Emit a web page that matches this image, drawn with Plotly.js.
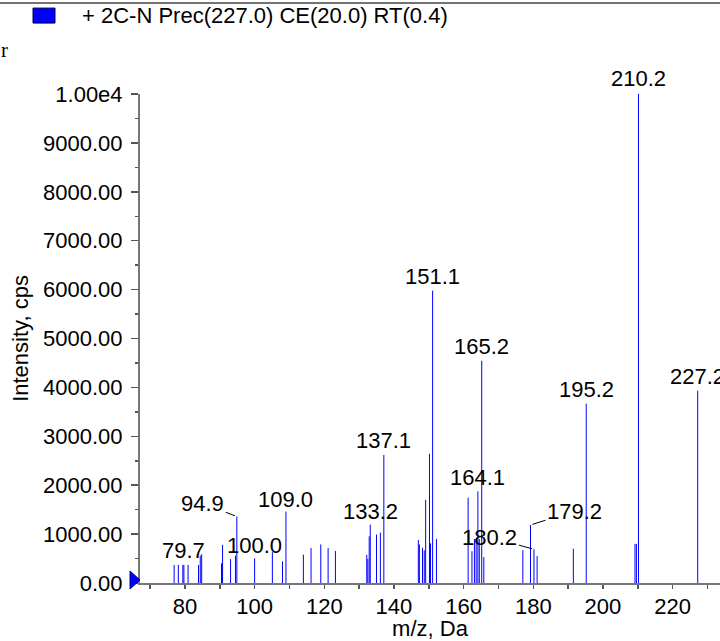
<!DOCTYPE html>
<html>
<head>
<meta charset="utf-8">
<script src="https://cdn.plot.ly/plotly-3.0.1.min.js"></script>
<style>html,body{margin:0;padding:0;background:#fff;}#chart{width:720px;height:641px;}</style>
</head>
<body>
<div id="chart"></div>
<script>
// ---- data ----
const peakMz = [76.9, 78.1, 79.4, 79.7, 80.9, 83.9, 84.4, 84.8,
  90.5, 90.8, 93.1, 94.5, 94.9, 100.0, 105.1, 108.0, 109.0,
  114.0, 116.2, 119.0, 121.1, 123.2,
  132.2, 132.5, 132.9, 133.2, 135.0, 136.1, 137.1,
  147.0, 147.3, 148.2, 148.7, 149.1, 150.2, 150.5, 151.1, 152.2,
  161.3, 162.4, 163.1, 163.6, 164.1, 164.5, 165.2, 165.8,
  177.0, 179.2, 180.2, 181.1, 191.5, 195.2,
  209.2, 209.6, 210.2, 227.2];
const peakIntensity = [370, 370, 370, 370, 370, 370, 560, 590,
  400, 780, 490, 560, 1360, 505, 630, 440, 1460,
  580, 715, 790, 715, 655,
  575, 490, 955, 1195, 990, 1030, 2620,
  880, 790, 720, 670, 1700, 2640, 810, 5980, 900,
  1745, 650, 900, 900, 1875, 900, 4546, 530,
  670, 1186, 690, 550, 700, 3667,
  800, 800, 10000, 3933];

const labelMz = [79.7, 94.9, 100.0, 109.0, 133.2, 137.1, 151.1, 164.1, 165.2, 179.2, 180.2, 195.2, 210.2, 227.2];
const labelText = ['79.7', '94.9', '100.0', '109.0', '133.2', '137.1', '151.1', '164.1', '165.2', '179.2', '180.2', '195.2', '210.2', '227.2'];

const yTickVals = [0, 1000, 2000, 3000, 4000, 5000, 6000, 7000, 8000, 9000, 10000];
const yTickText = ['0.00', '1000.00', '2000.00', '3000.00', '4000.00', '5000.00', '6000.00', '7000.00', '8000.00', '9000.00', '1.00e4'];

const legendText = '+ 2C-N Prec(227.0) CE(20.0) RT(0.4)';
const xTitle = 'm/z, Da';
const yTitle = 'Intensity, cps';

// ---- label placement styles (pixel offsets of text from peak top; leader line flag) ----
const labelStyle = {
  '79.7': [0, -14, false], '94.9': [-34, -13, true], '100.0': [0, -13, false],
  '109.0': [0, -12, false], '133.2': [0, -13, false], '137.1': [0, -14, false],
  '151.1': [0, -14, false], '164.1': [0, -14, false], '165.2': [0, -14, false],
  '179.2': [44, -14, true], '180.2': [-44, -12, true], '195.2': [0, -14, false],
  '210.2': [0, -16, false], '227.2': [0, -14, false]
};

// ---- build stick spectrum ----
const xs = [], ys = [];
peakMz.forEach((m, i) => { xs.push(m, m, null); ys.push(0, peakIntensity[i], null); });

const W = 720, H = 641, mL = 140, mR = 0, mT = 94, mB = 57.5;
const pw = W - mL - mR, ph = H - mT - mB;
const px = v => (v - mL) / pw;        // pixel x -> paper
const py = v => (H - mB - v) / ph;    // pixel y -> paper

const font = {family: 'Liberation Sans, Arial, sans-serif', size: 22, color: '#000'};

const annotations = labelText.map((t, i) => {
  const m = labelMz[i];
  const idx = peakMz.indexOf(m);
  const st = labelStyle[t];
  return {
    x: m, y: peakIntensity[idx], xref: 'x', yref: 'y', text: t,
    showarrow: true, ax: st[0], ay: st[1], arrowhead: 0, arrowwidth: 1,
    arrowcolor: st[2] ? '#000' : 'rgba(0,0,0,0)', standoff: 2, startstandoff: 0,
    font: font
  };
});
annotations.push({
  xref: 'paper', yref: 'paper', x: px(80), y: py(15), xanchor: 'left', yanchor: 'middle',
  text: legendText, showarrow: false, font: font
});
annotations.push({
  xref: 'paper', yref: 'paper', x: px(-1), y: py(50), xanchor: 'left', yanchor: 'middle',
  text: 'r', showarrow: false, font: {family: 'Liberation Serif, serif', size: 21, color: '#000'}
});

const shapes = [
  {type: 'line', xref: 'paper', yref: 'paper', x0: px(0), x1: 1, y0: py(3), y1: py(3),
   line: {color: '#444', width: 1.5}},
  {type: 'rect', xref: 'paper', yref: 'paper', x0: px(33), x1: px(55), y0: py(8), y1: py(23),
   fillcolor: '#0000ff', line: {color: '#000050', width: 1}},
  {type: 'path', xref: 'paper', yref: 'paper', xsizemode: 'pixel', ysizemode: 'pixel',
   xanchor: 0, yanchor: 0, path: 'M-10,12 L0,3 L-10,-6 Z',
   fillcolor: '#0000ff', line: {color: '#000080', width: 1}}
];

const trace = {
  x: xs, y: ys, type: 'scatter', mode: 'lines', connectgaps: false,
  line: {color: '#0000ff', width: 1}, hoverinfo: 'skip', showlegend: false
};

const layout = {
  width: W, height: H,
  margin: {l: mL, r: mR, t: mT, b: mB, pad: 0},
  paper_bgcolor: '#fff', plot_bgcolor: '#fff',
  showlegend: false,
  font: font,
  xaxis: {
    range: [67.1, 233.6], tickmode: 'linear', tick0: 0, dtick: 20,
    ticks: 'outside', ticklen: 4, tickwidth: 1.5, tickcolor: '#555',
    minor: {tickmode: 'linear', tick0: 0, dtick: 10, ticks: 'outside', ticklen: 4, tickwidth: 1.5, tickcolor: '#555', showgrid: false},
    showline: true, linecolor: '#777', linewidth: 2, showgrid: false, zeroline: false,
    tickfont: font, ticklabelstandoff: -1,
    title: {text: xTitle, font: font, standoff: 4}
  },
  yaxis: {
    range: [0, 10000], tickmode: 'array', tickvals: yTickVals, ticktext: yTickText,
    ticks: 'outside', ticklen: 7, tickwidth: 1.5, tickcolor: '#555',
    minor: {tickmode: 'linear', tick0: 0, dtick: 500, ticks: 'outside', ticklen: 3, tickwidth: 1.5, tickcolor: '#555', showgrid: false},
    showline: true, linecolor: '#777', linewidth: 2, showgrid: false, zeroline: false,
    tickfont: font, ticklabelstandoff: 4,
    title: {text: yTitle, font: font, standoff: 8}
  },
  annotations: annotations,
  shapes: shapes
};

Plotly.newPlot('chart', [trace], layout, {displayModeBar: false, staticPlot: true});
</script>
</body>
</html>
